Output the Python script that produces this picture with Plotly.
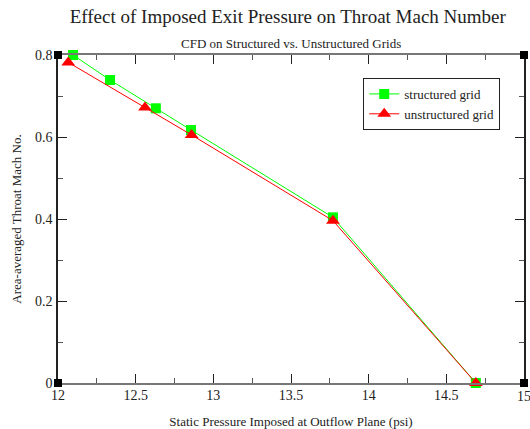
import plotly.graph_objects as go

# Data
struct_x = [12.097, 12.335, 12.63, 12.856, 13.77, 14.69]
struct_y = [0.800, 0.739, 0.670, 0.617, 0.404, 0.0]
unstruct_x = [12.066, 12.56, 12.86, 13.77, 14.69]
unstruct_y = [0.782, 0.672, 0.605, 0.396, 0.0]

x_ticks = [12, 12.5, 13, 13.5, 14, 14.5, 15]
x_ticklabels = ["12", "12.5", "13", "13.5", "14", "14.5", "15"]
y_ticks = [0, 0.2, 0.4, 0.6, 0.8]
y_ticklabels = ["0", "0.2", "0.4", "0.6", "0.8"]

FONT = "Liberation Serif"

fig = go.Figure()
fig.add_trace(go.Scatter(
    x=struct_x, y=struct_y, mode="lines+markers", name="structured grid",
    line=dict(color="#00ff00", width=1),
    marker=dict(symbol="square", size=10, color="#00ff00"),
    cliponaxis=False,
))
fig.add_trace(go.Scatter(
    x=unstruct_x, y=unstruct_y, mode="lines+markers", name="unstructured grid",
    line=dict(color="#ff0000", width=1),
    marker=dict(symbol="triangle-up", size=12, color="#ff0000"),
    cliponaxis=False,
))

axis_common = dict(
    showgrid=False, zeroline=False, showline=True, mirror="ticks",
    ticks="inside", ticklen=9, tickwidth=1, automargin=False,
    tickfont=dict(family=FONT, size=14, color="#222"),
)

fig.update_xaxes(
    range=[12, 15], tickvals=x_ticks, ticktext=x_ticklabels,
    linecolor="#777", tickcolor="#222", linewidth=1.5,
    minor=dict(dtick=0.25, tick0=12, ticks="inside", ticklen=5, tickcolor="#555"),
    ticklabelstandoff=-2,
    title=dict(text="Static Pressure Imposed at Outflow Plane (psi)",
               font=dict(family=FONT, size=13, color="#222"), standoff=18),
    **axis_common,
)
fig.update_yaxes(
    range=[0, 0.8], tickvals=y_ticks, ticktext=y_ticklabels,
    linecolor="#222", tickcolor="#222", linewidth=1.5,
    minor=dict(dtick=0.1, tick0=0, ticks="inside", ticklen=5, tickcolor="#555"),
    ticklabelstandoff=1,
    title=dict(text="Area-averaged Throat Mach No.",
               font=dict(family=FONT, size=13, color="#222"), standoff=10),
    **axis_common,
)

# corner squares (frame decoration)
for (px, py) in [(0, 0), (0, 1), (1, 0), (1, 1)]:
    fig.add_shape(type="rect", xref="paper", yref="paper",
                  x0=-4, x1=4, y0=-4, y1=4,
                  xsizemode="pixel", ysizemode="pixel",
                  xanchor=px, yanchor=py,
                  line=dict(width=0), fillcolor="black")

annotations = [dict(text="CFD on Structured vs. Unstructured Grids",
                    xref="paper", yref="paper", x=0.5, y=1.0, yshift=12,
                    showarrow=False, yanchor="middle",
                    font=dict(family=FONT, size=13, color="#222"))]
# last tick label, partially cut at the right edge as in the reference
annotations.append(dict(text=x_ticklabels[-1], xref="x", yref="paper",
                        x=x_ticks[-1], y=0, yshift=-4, showarrow=False,
                        xanchor="center", yanchor="top",
                        font=dict(family=FONT, size=14, color="#222")))

fig.update_layout(
    width=530, height=429,
    margin=dict(l=58, r=6, t=55, b=46),
    paper_bgcolor="white", plot_bgcolor="white",
    font=dict(family=FONT, color="#222"),
    title=dict(text="Effect of Imposed Exit Pressure on Throat Mach Number",
               font=dict(family=FONT, size=19, color="#222"),
               x=0.543, xanchor="center", y=0.962, yanchor="middle"),
    annotations=annotations,
    legend=dict(x=0.655, y=0.93, xanchor="left", yanchor="top",
                bgcolor="white", bordercolor="#222", borderwidth=1,
                font=dict(family=FONT, size=13, color="#222"),
                itemwidth=30, tracegroupgap=0),
    showlegend=True,
)

fig.write_html("out.html")
